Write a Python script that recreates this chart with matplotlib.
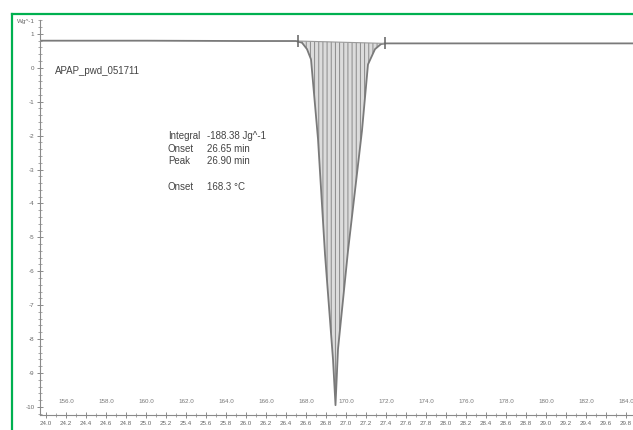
import numpy as np
import matplotlib
matplotlib.use("Agg")
import matplotlib.pyplot as plt
from matplotlib.ticker import MultipleLocator
from matplotlib.lines import Line2D

# DSC curve, heat flow (W/g) vs time (min)
time_min = [23.94, 25.0, 26.0, 26.50, 26.56, 26.61, 26.65, 26.72, 26.79, 26.87,
            26.895, 26.92, 27.02, 27.16, 27.22, 27.29, 27.35, 27.40, 28.0, 29.0, 29.87]
heat_flow = [0.80, 0.80, 0.79, 0.79, 0.74, 0.55, 0.25, -2.1, -5.5, -8.6,
             -9.95, -8.3, -5.4, -1.85, 0.1, 0.55, 0.70, 0.72, 0.72, 0.72, 0.72]

# integration limits
limit_t = [26.52, 27.39]
limit_v = [0.79, 0.72]

# temperature scale shown inside the plot (°C), 5 K/min from 35 °C at t=0
temps = [156.0, 158.0, 160.0, 162.0, 164.0, 166.0, 168.0, 170.0, 172.0,
         174.0, 176.0, 178.0, 180.0, 182.0, 184.0]

sample_name = "APAP_pwd_051711"
result_labels = ["Integral", "Onset", "Peak", "", "Onset"]
result_values = ["-188.38 Jg^-1", "26.65 min", "26.90 min", "", "168.3 °C"]

plt.rcParams["font.family"] = ["Liberation Sans", "DejaVu Sans"]
plt.rcParams["hatch.linewidth"] = 0.7

fig = plt.figure(figsize=(6.33, 4.30), dpi=100)
ax = fig.add_axes([40 / 633, 1 - 415 / 430, 593 / 633, 395 / 430])
ax.set_xlim(23.94, 29.87)
ax.set_ylim(-10.24, 1.41)

t = np.array(time_min)
v = np.array(heat_flow)

# shaded peak area between curve and integration baseline
mask = (t >= limit_t[0]) & (t <= limit_t[1])
tf = np.concatenate([[limit_t[0]], t[mask], [limit_t[1]]])
vf = np.concatenate([[limit_v[0]], v[mask], [limit_v[1]]])
base = np.interp(tf, limit_t, limit_v)
ax.fill_between(tf, vf, base, facecolor="#dcdcdc", edgecolor="#8a8a8a",
                hatch="||||", linewidth=0)

ax.plot(t, v, color="#7a7a7a", lw=1.3)
ax.plot(limit_t, limit_v, color="#9a9a9a", lw=0.8)
ax.plot(limit_t, limit_v, ls="none", marker="|", ms=8, mew=1.1, color="#606060")

# axes styling
for s in ["top", "right"]:
    ax.spines[s].set_visible(False)
for s in ["left", "bottom"]:
    ax.spines[s].set_color("#8a8a8a")
    ax.spines[s].set_linewidth(0.8)

ax.xaxis.set_major_locator(MultipleLocator(0.2))
ax.xaxis.set_minor_locator(MultipleLocator(0.1))
ax.yaxis.set_major_locator(MultipleLocator(1))
ax.yaxis.set_minor_locator(MultipleLocator(0.2))
ax.xaxis.set_major_formatter(matplotlib.ticker.FormatStrFormatter("%.1f"))
ax.yaxis.set_major_formatter(matplotlib.ticker.FormatStrFormatter("%d"))
ax.tick_params(which="major", direction="inout", length=5, width=0.7,
               color="#8a8a8a", labelsize=4.5, labelcolor="#666666", pad=1.5)
ax.tick_params(which="minor", direction="inout", length=2.5, width=0.6,
               color="#9a9a9a")

# temperature labels
for T in temps:
    ax.text((T - 35) / 5, 0.033, f"{T:.1f}", transform=ax.get_xaxis_transform(),
            fontsize=4.5, color="#777777", ha="center", va="center")

ax.text(24.09, -0.1, sample_name, fontsize=7, color="#444444", va="center")
for i, (lab, val) in enumerate(zip(result_labels, result_values)):
    y = -2.0 - i * 0.38
    ax.text(25.22, y, lab, fontsize=7, color="#444444", va="center")
    ax.text(25.61, y, val, fontsize=7, color="#444444", va="center")

fig.text(17 / 633, 1 - 21 / 430, "Wg^-1", fontsize=4.5, color="#666666", va="center")

# green frame
fig.add_artist(Line2D([12 / 633, 12 / 633], [0, 1 - 14 / 430], color="#00b050",
                      lw=1.6, transform=fig.transFigure))
fig.add_artist(Line2D([12 / 633, 1], [1 - 14 / 430, 1 - 14 / 430], color="#00b050",
                      lw=1.6, transform=fig.transFigure))

fig.savefig("out.png", dpi=100)
